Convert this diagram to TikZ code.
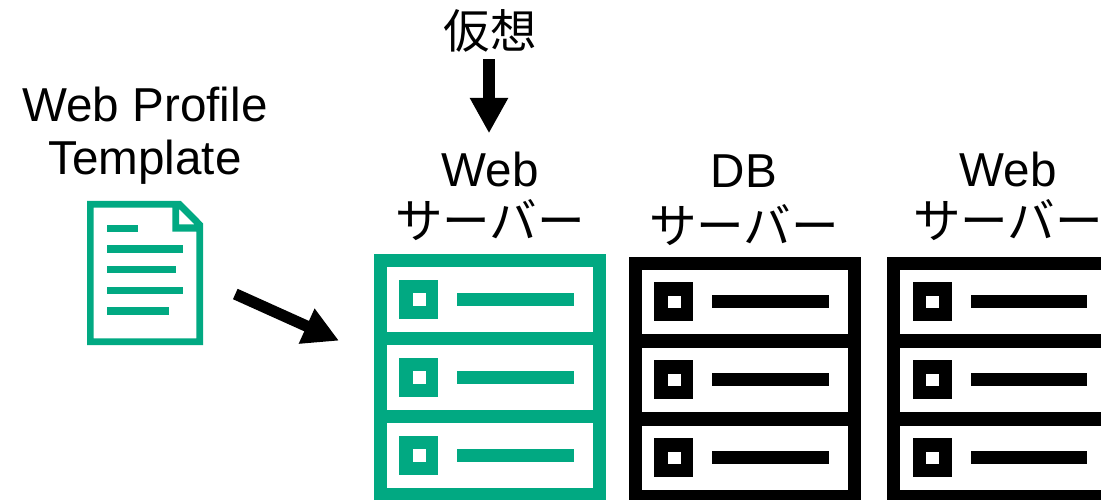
\documentclass[tikz,border=0pt]{standalone}
\usepackage{fontspec}
\setmainfont{Liberation Sans}
\newfontfamily\cjk{Noto Sans CJK JP}
\usetikzlibrary{arrows.meta}
\definecolor{hpegreen}{HTML}{01A982}
\tikzset{
  lbl/.style={inner sep=0pt,outer sep=0pt,anchor=base,font=\fontsize{47.6}{54}\selectfont,text=black},
  jlbl/.style={inner sep=0pt,outer sep=0pt,anchor=base,font=\fontsize{46.5}{54}\selectfont\cjk,text=black},
  klbl/.style={inner sep=0pt,outer sep=0pt,anchor=base,font=\fontsize{47.6}{54}\selectfont\cjk,text=black},
  bigarrow/.style={draw=black,-{Triangle[length=35.5pt,width=36pt]}},
}
% #1 x-left, #2 y-top, #3 colour
\newcommand{\serverrack}[3]{%
  \fill[#3] (#1,#2) rectangle ++(232,260);
  \foreach \r in {0,1,2}{
    \fill[white] ({#1+12.8},{#2+13+78*\r}) rectangle ++(206.4,64.7);
    \fill[#3] ({#1+25.3},{#2+25.7+78*\r}) rectangle ++(39,39);
    \fill[white] ({#1+38.8},{#2+39+78*\r}) rectangle ++(12.8,12.8);
    \fill[#3] ({#1+83.3},{#2+38.7+78*\r}) rectangle ++(116.7,13);
  }}
\begin{document}
\begin{tikzpicture}[x=1pt,y=-1pt]
\useasboundingbox (0,0) rectangle (1101,500);
\clip (0,0) rectangle (1101,500);
\fill[white] (0,0) rectangle (1101,500);
% document icon
\fill[hpegreen,even odd rule]
  (87,201) -- (181,201) -- (203,223.3) -- (203,345) -- (87,345) -- cycle
  (93.5,207.5) -- (93.5,338.3) -- (196.3,338.3) -- (196.3,231.7) -- (172.3,231.7) -- (172.3,207.5) -- cycle
  (179,209) -- (179,224.3) -- (194.3,224.3) -- cycle;
\fill[hpegreen] (107,225) rectangle (138,232);
\fill[hpegreen] (107,245) rectangle (182.7,252.5);
\fill[hpegreen] (107,266) rectangle (175.7,273);
\fill[hpegreen] (107,286.7) rectangle (182.7,294);
\fill[hpegreen] (107,307) rectangle (169,314.5);
% racks
\serverrack{374}{254.3}{hpegreen}
\serverrack{629}{256.5}{black}
\serverrack{887.3}{256.5}{black}
% labels
\node[lbl] (profile) at (145,122) {Web Profile};
\node[lbl] (template) at (145,175) {Template};
\node[jlbl] (kaso) at (490,49) {仮想};
\node[lbl] (web1) at (490,186) {Web};
\node[klbl] (srv1) at (490,238.5) {サーバー};
\node[lbl] (db) at (744,188) {DB};
\node[klbl] (srv2) at (744,243.5) {サーバー};
\node[lbl] (web2) at (1008,186) {Web};
\node[klbl] (srv3) at (1008,238.5) {サーバー};
% arrows
\coordinate (downtail) at (489,59.3);
\coordinate (downtip) at (489,133.3);
\coordinate (diagtail) at (235.3,294);
\coordinate (diagtip) at (339,340.7);
\draw[bigarrow,line width=12pt] (downtail) -- (downtip);
\draw[bigarrow,line width=11.4pt] (diagtail) -- (diagtip);
\end{tikzpicture}
\end{document}
